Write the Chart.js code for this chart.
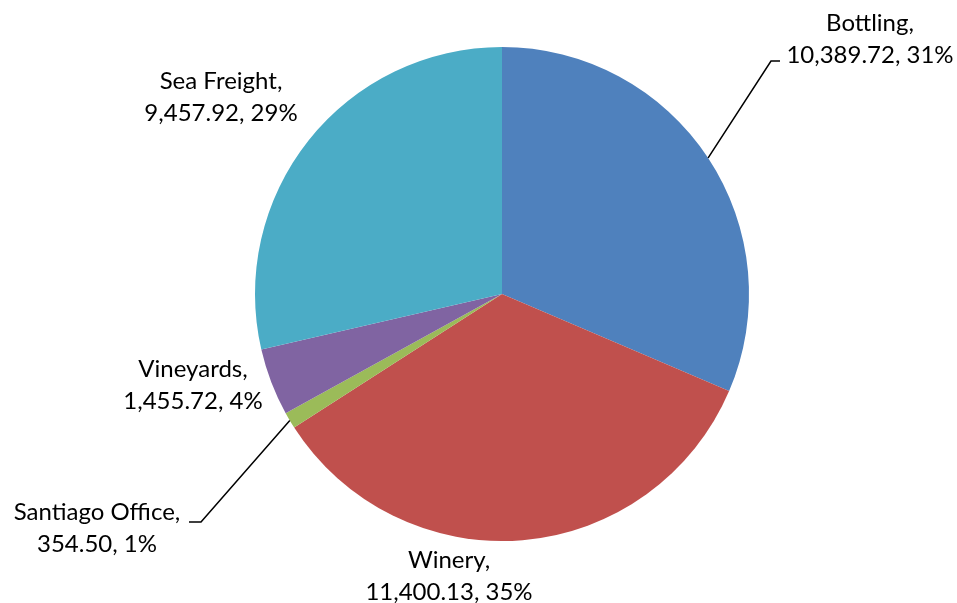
<!DOCTYPE html>
<html>
<head>
<meta charset="utf-8">
<script src="https://cdn.jsdelivr.net/npm/chart.js@4.4.0/dist/chart.umd.min.js"></script>
<style>
  body { margin: 0; background: #fff; }
  #wrap { width: 957px; height: 603px; }
</style>
</head>
<body>
<div id="wrap"><canvas id="pie" width="957" height="603"></canvas></div>
<script>
// data
const categories = ['Bottling', 'Winery', 'Santiago Office', 'Vineyards', 'Sea Freight'];
const costs = [10389.72, 11400.13, 354.50, 1455.72, 9457.92];
const costLabels = ['10,389.72', '11,400.13', '354.50', '1,455.72', '9,457.92'];
const percentLabels = ['31%', '35%', '1%', '4%', '29%'];

const colors = ['#4F81BD', '#C0504D', '#9BBB59', '#8064A2', '#4BACC6'];

// where each label sits, relative to the pie centre (x = text centre, y = first baseline)
const labelSpots = [
    { dx: 368, dy: -263, leader: [[269, -233], [278, -233]] },
    { dx: -53, dy: 274 },
    { dx: -405, dy: 226, leader: [[-301, 228], [-313, 228]] },
    { dx: -309, dy: 83 },
    { dx: -281, dy: -205 }
];

const pieLabels = {
    id: 'pieLabels',
    afterDraw(chart) {
        const ctx = chart.ctx;
        const meta = chart.getDatasetMeta(0);
        ctx.save();
        ctx.font = '24px Lato, "Open Sans", sans-serif';
        ctx.fillStyle = '#000';
        ctx.textAlign = 'center';
        ctx.textBaseline = 'alphabetic';
        meta.data.forEach(function (arc, i) {
            const p = arc.getProps(['x', 'y', 'startAngle', 'endAngle', 'outerRadius'], true);
            const spot = labelSpots[i];
            const tx = p.x + spot.dx;
            const ty = p.y + spot.dy;
            ctx.fillText(categories[i] + ',', tx, ty);
            ctx.fillText(costLabels[i] + ', ' + percentLabels[i], tx, ty + 32);

            if (spot.leader) {
                const mid = (p.startAngle + p.endAngle) / 2;
                ctx.beginPath();
                ctx.strokeStyle = '#000';
                ctx.lineWidth = 1.5;
                ctx.moveTo(p.x + Math.cos(mid) * p.outerRadius, p.y + Math.sin(mid) * p.outerRadius);
                spot.leader.forEach(function (pt) {
                    ctx.lineTo(p.x + pt[0], p.y + pt[1]);
                });
                ctx.stroke();
            }
        });
        ctx.restore();
    }
};

new Chart(document.getElementById('pie').getContext('2d'), {
    type: 'pie',
    data: {
        labels: categories,
        datasets: [{
            data: costs,
            backgroundColor: colors,
            borderWidth: 0
        }]
    },
    options: {
        responsive: false,
        animation: false,
        layout: { padding: { left: 255, right: 208, top: 47, bottom: 62 } },
        plugins: {
            legend: { display: false },
            tooltip: { enabled: false }
        }
    },
    plugins: [pieLabels]
});
</script>
</body>
</html>
